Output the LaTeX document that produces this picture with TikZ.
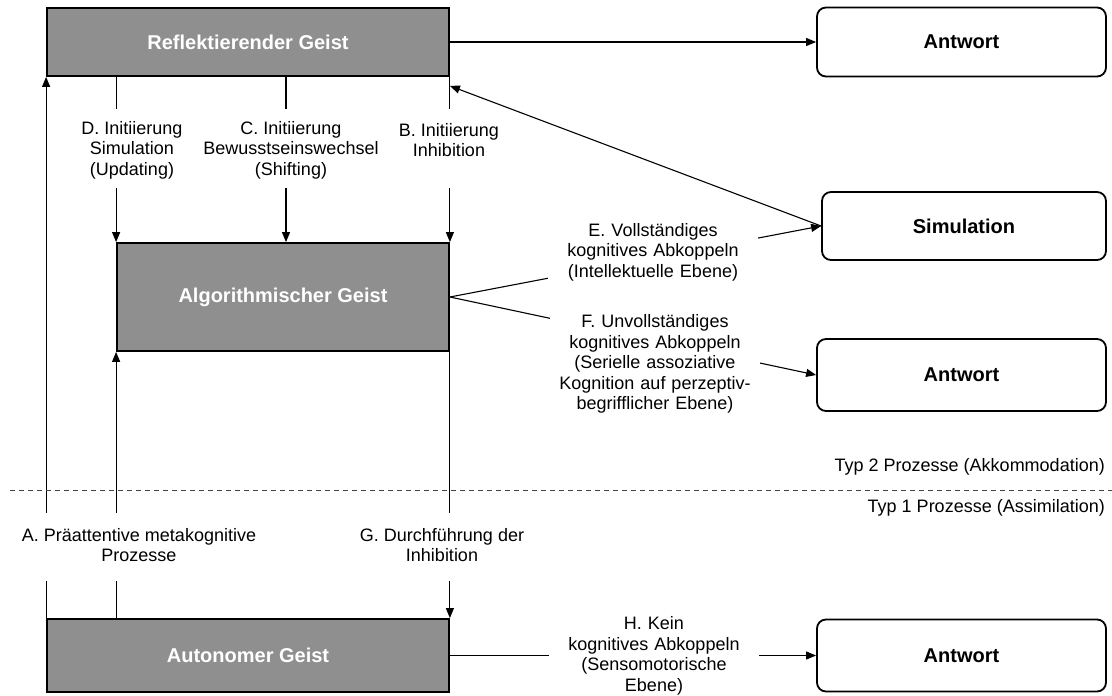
\documentclass[tikz,border=0pt]{standalone}
\usepackage{fontspec}
\setmainfont{Liberation Sans}
\usetikzlibrary{arrows.meta,calc}
\definecolor{boxgray}{HTML}{8F8F8F}
\definecolor{dashgray}{HTML}{444444}
\begin{document}
\begin{tikzpicture}[x=1pt,y=-1pt,
  mind/.style={draw=black, line width=1.8pt, fill=boxgray, text=white,
    font=\fontsize{20}{24}\selectfont\bfseries, inner sep=0pt},
  result/.style={draw=black, line width=1.8pt, rounded corners=9pt, fill=white,
    font=\fontsize{20}{24}\selectfont\bfseries, inner sep=0pt},
  lbl/.style={font=\fontsize{18}{20.5}\selectfont, align=center, inner sep=0pt},
  edgelbl/.style={lbl, fill=white, text width=202pt, inner xsep=4pt, inner ysep=3pt},
  conn/.style={line width=1.1pt},
  arr/.style={conn, -{Triangle[length=10pt,width=8pt]}},
]
\useasboundingbox (0,0) rectangle (1112,696);

% the three minds
\node[mind, minimum width=402pt, minimum height=68pt] (refl) at (248,42) {Reflektierender Geist};
\node[mind, minimum width=332pt, minimum height=108pt] (alg) at (283,297) {Algorithmischer Geist};
\node[mind, minimum width=402pt, minimum height=73pt] (auto) at (248,655.5) {Autonomer Geist};

% outcomes
\node[result, minimum width=289pt, minimum height=69pt] (ans1) at (961.5,42) {Antwort};
\node[result, minimum width=284pt, minimum height=68pt] (sim) at (964,226) {Simulation};
\node[result, minimum width=289pt, minimum height=72pt] (ans2) at (961.5,375) {Antwort};
\node[result, minimum width=289pt, minimum height=72pt] (ans3) at (961.5,655.5) {Antwort};

% gap ends of the vertical connectors
\coordinate (upTop) at (0,109);
\coordinate (upBot) at (0,188);
\coordinate (lowTop) at (0,513);
\coordinate (lowBot) at (0,581);
\coordinate (cX) at (286,0);

% reflective -> algorithmic
\draw[conn] (refl.south -| alg.west) -- (upTop -| alg.west);
\draw[arr] (upBot -| alg.west) -- (alg.north west);
\draw[conn] (refl.south -| cX) -- (upTop -| cX);
\draw[arr] (upBot -| cX) -- (alg.north -| cX);
\draw[conn] (refl.south east) -- (upTop -| alg.east);
\draw[arr] (upBot -| alg.east) -- (alg.north east);

\node[lbl] (labD) at (132,150) {D. Initiierung\\Simulation\\(Updating)};
\node[lbl] (labC) at (291,150) {C. Initiierung\\Bewusstseinswechsel\\(Shifting)};
\node[lbl] (labB) at (449,140) {B. Initiierung\\Inhibition};

% autonomous <-> upper minds
\draw[conn] (auto.north west) -- (lowBot -| auto.west);
\draw[arr] (lowTop -| auto.west) -- (refl.south west);
\draw[conn] (auto.north -| alg.west) -- (lowBot -| alg.west);
\draw[arr] (lowTop -| alg.west) -- (alg.south west);
\draw[conn] (alg.south east) -- (lowTop -| alg.east);
\draw[arr] (lowBot -| alg.east) -- (auto.north east);

\node[lbl] (labA) at (139,545) {A. Präattentive metakognitive\\Prozesse};
\node[lbl] (labG) at (442,545) {G. Durchführung der\\Inhibition};

% horizontal connectors
\draw[arr] (refl.east) -- (ans1.west);
\draw[arr] (sim.west) -- ($(refl.south east)+(0,9)$);
\draw[arr] (alg.east) -- (sim.west);
\draw[arr] (alg.east) -- (ans2.west);
\draw[arr] (auto.east) -- (ans3.west);

\node[edgelbl] (labE) at (653,252) {E. Vollständiges\\kognitives Abkoppeln\\(Intellektuelle Ebene)};
\node[edgelbl] (labF) at (655,364) {F. Unvollständiges\\kognitives Abkoppeln\\(Serielle assoziative\\Kognition auf perzeptiv-\\begrifflicher Ebene)};
\node[edgelbl] (labH) at (654,656) {H. Kein\\kognitives Abkoppeln\\(Sensomotorische\\Ebene)};

% boundary between process types
\coordinate (dashL) at (10,490);
\coordinate (dashR) at (1112,490);
\draw[dashgray, line width=1pt, dash pattern=on 5pt off 4pt] (dashL) -- (dashR);
\node[lbl, anchor=east] (typ2) at (1105,467) {Typ 2 Prozesse (Akkommodation)};
\node[lbl, anchor=east] (typ1) at (1105,508) {Typ 1 Prozesse (Assimilation)};
\end{tikzpicture}
\end{document}
